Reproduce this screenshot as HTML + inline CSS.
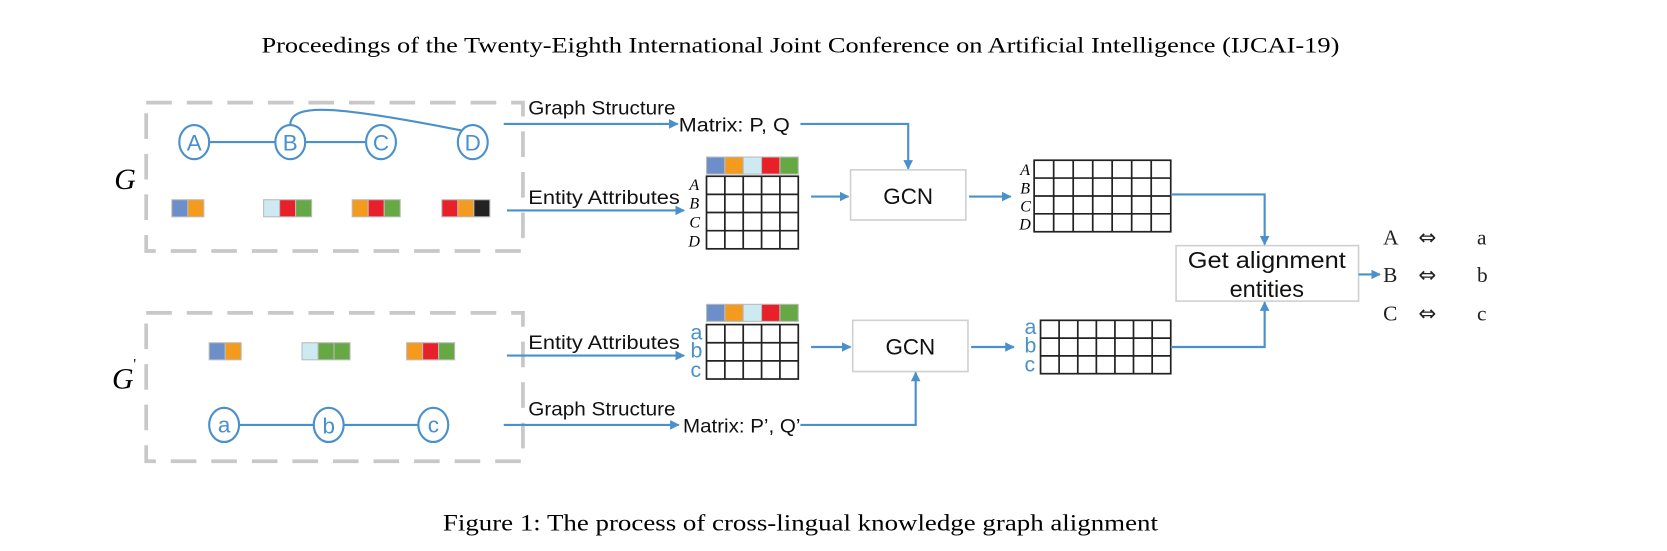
<!DOCTYPE html>
<html><head><meta charset="utf-8"><style>
html,body{margin:0;padding:0;background:#fff;}
svg{display:block;}
.s{font-family:"Liberation Sans",sans-serif;}
.r{font-family:"Liberation Serif",serif;}
</style></head><body>
<svg width="1667" height="551" viewBox="0 0 1562 516" xmlns="http://www.w3.org/2000/svg">
<defs>
<marker id="ar" viewBox="0 0 10 10" refX="9" refY="5" markerWidth="9" markerHeight="9" orient="auto" markerUnits="userSpaceOnUse"><path d="M0,0 L10,5 L0,10 z" fill="#4a90cc"/></marker>
</defs>
<text x="750" y="49" text-anchor="middle" class="r" font-size="21" textLength="1010" lengthAdjust="spacingAndGlyphs">Proceedings of the Twenty-Eighth International Joint Conference on Artificial Intelligence (IJCAI-19)</text>
<text x="750" y="497" text-anchor="middle" class="r" font-size="22" textLength="670" lengthAdjust="spacingAndGlyphs">Figure 1: The process of cross-lingual knowledge graph alignment</text>

<g fill="none" stroke="#c8c8c8" stroke-width="3.5" stroke-dasharray="24,14">
<rect x="137" y="96" width="353" height="139"/>
<rect x="137" y="293" width="353" height="139"/>
</g>
<text x="107" y="177" class="r" font-style="italic" font-size="28">G</text>
<text x="105" y="364" class="r" font-style="italic" font-size="28">G</text>
<text x="125" y="345" class="r" font-size="14">'</text>

<g stroke="#4a90cc" stroke-width="2" fill="none">
<line x1="196" y1="133" x2="258" y2="133"/>
<line x1="286" y1="133" x2="343" y2="133"/>
<path d="M272,117 C272,95 320,100 432,122"/>
<ellipse cx="182" cy="133" rx="14" ry="16" fill="#fff"/>
<ellipse cx="272" cy="133" rx="14" ry="16" fill="#fff"/>
<ellipse cx="357" cy="133" rx="14" ry="16" fill="#fff"/>
<ellipse cx="443" cy="133" rx="14" ry="16" fill="#fff"/>
<line x1="224" y1="398" x2="294" y2="398"/>
<line x1="322" y1="398" x2="392" y2="398"/>
<ellipse cx="210" cy="398" rx="14" ry="16" fill="#fff"/>
<ellipse cx="308" cy="398" rx="14" ry="16" fill="#fff"/>
<ellipse cx="406" cy="398" rx="14" ry="16" fill="#fff"/>
</g>
<g class="s" fill="#4a90cc" font-size="21" text-anchor="middle">
<text x="182" y="141">A</text><text x="272" y="141">B</text><text x="357" y="141">C</text><text x="443" y="141">D</text>
<text x="210" y="405">a</text><text x="308" y="406">b</text><text x="406" y="405">c</text>
</g>

<g stroke="#bbb" stroke-width="1">
<rect x="161" y="187" width="15" height="16" fill="#6d8fc9"/><rect x="176" y="187" width="15" height="16" fill="#f39a1f"/>
<rect x="247" y="187" width="15" height="16" fill="#cde9f1"/><rect x="262" y="187" width="15" height="16" fill="#e8202a"/><rect x="277" y="187" width="15" height="16" fill="#66a844"/>
<rect x="330" y="187" width="15" height="16" fill="#f39a1f"/><rect x="345" y="187" width="15" height="16" fill="#e8202a"/><rect x="360" y="187" width="15" height="16" fill="#66a844"/>
<rect x="414" y="187" width="15" height="16" fill="#e8202a"/><rect x="429" y="187" width="15" height="16" fill="#f39a1f"/><rect x="444" y="187" width="15" height="16" fill="#222"/>
<rect x="196" y="321" width="15" height="16" fill="#6d8fc9"/><rect x="211" y="321" width="15" height="16" fill="#f39a1f"/>
<rect x="283" y="321" width="15" height="16" fill="#cde9f1"/><rect x="298" y="321" width="15" height="16" fill="#66a844"/><rect x="313" y="321" width="15" height="16" fill="#66a844"/>
<rect x="381" y="321" width="15" height="16" fill="#f39a1f"/><rect x="396" y="321" width="15" height="16" fill="#e8202a"/><rect x="411" y="321" width="15" height="16" fill="#66a844"/>
<rect x="662" y="147" width="17.2" height="16" fill="#6d8fc9"/><rect x="679.2" y="147" width="17.2" height="16" fill="#f39a1f"/><rect x="696.4" y="147" width="17.2" height="16" fill="#cde9f1"/><rect x="713.6" y="147" width="17.2" height="16" fill="#e8202a"/><rect x="730.8" y="147" width="17.2" height="16" fill="#66a844"/>
<rect x="662" y="285" width="17.2" height="16" fill="#6d8fc9"/><rect x="679.2" y="285" width="17.2" height="16" fill="#f39a1f"/><rect x="696.4" y="285" width="17.2" height="16" fill="#cde9f1"/><rect x="713.6" y="285" width="17.2" height="16" fill="#e8202a"/><rect x="730.8" y="285" width="17.2" height="16" fill="#66a844"/>
</g>

<g fill="none" stroke="#222" stroke-width="1.6">
<rect x="662" y="165" width="86" height="68"/>
<path d="M679.2,165V233M696.4,165V233M713.6,165V233M730.8,165V233M662,182H748M662,199H748M662,216H748"/>
<rect x="662" y="304" width="86" height="51"/>
<path d="M679.2,304V355M696.4,304V355M713.6,304V355M730.8,304V355M662,321H748M662,338H748"/>
<rect x="969" y="150" width="128" height="67"/>
<path d="M987.3,150V217M1005.6,150V217M1023.9,150V217M1042.1,150V217M1060.4,150V217M1078.7,150V217M969,166.7H1097M969,183.5H1097M969,200.2H1097"/>
<rect x="975" y="300" width="122" height="50"/>
<path d="M992.4,300V350M1009.9,300V350M1027.3,300V350M1044.7,300V350M1062.1,300V350M1079.6,300V350M975,316.7H1097M975,333.3H1097"/>
</g>
<g class="r" font-style="italic" font-size="15">
<text x="646" y="178">A</text><text x="646" y="195">B</text><text x="646" y="213">C</text><text x="645" y="231">D</text>
<text x="956" y="164">A</text><text x="956" y="181">B</text><text x="956" y="198">C</text><text x="955" y="215">D</text>
</g>
<g class="s" fill="#4a90cc" font-size="20">
<text x="647" y="318">a</text><text x="647" y="335">b</text><text x="647" y="353">c</text>
<text x="960" y="313">a</text><text x="960" y="330">b</text><text x="960" y="348">c</text>
</g>

<g class="s" font-size="18" fill="#111" lengthAdjust="spacingAndGlyphs">
<text x="495" y="107" textLength="138" lengthAdjust="spacingAndGlyphs">Graph Structure</text>
<text x="636" y="123" textLength="104" lengthAdjust="spacingAndGlyphs">Matrix: P, Q</text>
<text x="495" y="191" textLength="142" lengthAdjust="spacingAndGlyphs">Entity Attributes</text>
<text x="495" y="327" textLength="142" lengthAdjust="spacingAndGlyphs">Entity Attributes</text>
<text x="495" y="389" textLength="138" lengthAdjust="spacingAndGlyphs">Graph Structure</text>
<text x="640" y="405" textLength="110" lengthAdjust="spacingAndGlyphs">Matrix: P’, Q’</text>
</g>

<g fill="#fff" stroke="#d0d0d0" stroke-width="1.5">
<rect x="797" y="159" width="108" height="47"/>
<rect x="799" y="300" width="108" height="48"/>
<rect x="1102" y="230" width="171" height="52"/>
</g>
<g class="s" font-size="21" text-anchor="middle" fill="#111">
<text x="851" y="191">GCN</text><text x="853" y="332">GCN</text>
<text x="1187" y="251" font-size="22" textLength="148" lengthAdjust="spacingAndGlyphs">Get alignment</text>
<text x="1187" y="278" font-size="22">entities</text>
</g>

<g stroke="#4a90cc" stroke-width="2" fill="none" marker-end="url(#ar)">
<line x1="472" y1="116" x2="635" y2="116"/>
<path d="M750,116H851V158"/>
<line x1="475" y1="197" x2="641" y2="197"/>
<line x1="760" y1="184" x2="795" y2="184"/>
<line x1="908" y1="184" x2="947" y2="184"/>
<path d="M1097,182H1185V229"/>
<line x1="475" y1="333" x2="641" y2="333"/>
<line x1="760" y1="325" x2="797" y2="325"/>
<line x1="910" y1="325" x2="950" y2="325"/>
<path d="M1097,325H1185V283"/>
<line x1="472" y1="398" x2="636" y2="398"/>
<path d="M750,398H858V349"/>
<line x1="1273" y1="257" x2="1293" y2="257"/>
</g>

<g class="r" font-size="20" fill="#222">
<text x="1296" y="229">A</text><text x="1384" y="229">a</text>
<text x="1296" y="264">B</text><text x="1384" y="264">b</text>
<text x="1296" y="300">C</text><text x="1384" y="300">c</text>
</g>
<g font-family="DejaVu Sans, sans-serif" font-size="20" fill="#222">
<text x="1329" y="229">⇔</text>
<text x="1329" y="264">⇔</text>
<text x="1329" y="300">⇔</text>
</g>
</svg>
</body></html>
